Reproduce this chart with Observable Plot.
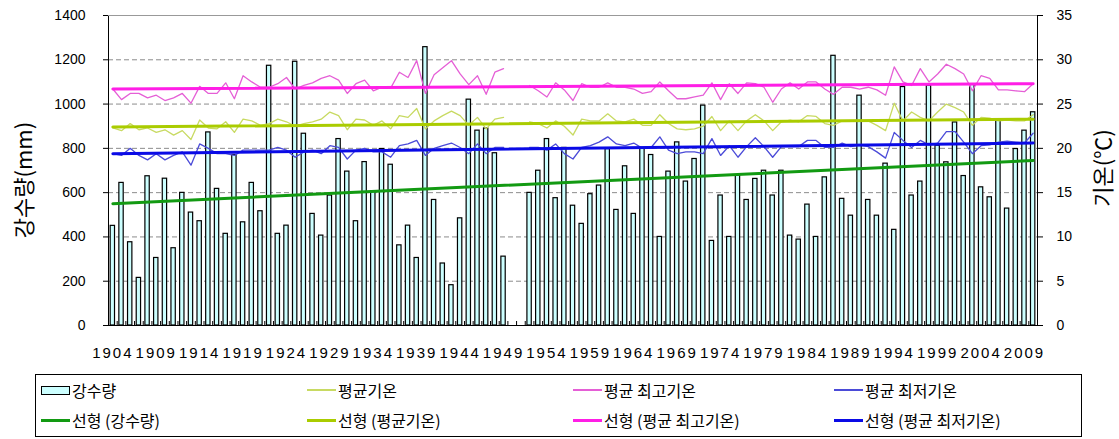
<!DOCTYPE html>
<html><head><meta charset="utf-8">
<script src="https://cdn.jsdelivr.net/npm/d3@7"></script>
<script src="https://cdn.jsdelivr.net/npm/@observablehq/plot@0.6"></script>
<style>
html,body{margin:0;padding:0;background:#fff}
body{width:1119px;height:439px;overflow:hidden;position:relative;font-family:"Liberation Sans",Arial,sans-serif}
#wrap{position:absolute;left:0;top:0;width:1119px;height:372px}
#wrap svg{position:absolute;left:0;top:0;overflow:visible}
.xlab text{letter-spacing:2px}
.ylab{position:absolute;font-family:"Noto Sans CJK KR",sans-serif;font-size:22px;color:#000;white-space:nowrap;transform:translate(-50%,-50%) rotate(-90deg);line-height:1}
#legend{position:absolute;left:35px;top:374px;width:1045px;height:61px;border:1.5px solid #000;font-family:"Noto Sans CJK KR",sans-serif;font-size:16px;color:#000}
.item{position:absolute;height:22px;display:flex;align-items:center;white-space:nowrap;line-height:1}
.sw{width:29px;margin-right:2px;display:inline-block}
</style></head><body>
<div id="wrap"></div>
<div class="ylab" style="left:22px;top:180px">강수량(mm)</div>
<div class="ylab" style="left:1101px;top:168px">기온(℃)</div>
<div id="legend"></div>
<script>
const years = d3.range(1904, 2011);
const precip = [450,644,376,215,674,305,663,349,599,510,471,872,617,414,770,466,644,516,1173,414,451,1191,866,504,406,587,842,695,471,738,606,797,726,362,451,305,1257,567,280,182,484,1020,880,890,778,311,null,null,599,699,842,575,802,541,459,593,632,797,522,719,504,800,770,400,695,827,650,752,993,382,587,400,677,567,662,699,587,699,406,388,546,400,669,1218,572,496,1038,567,496,731,432,1077,587,650,1083,812,737,917,675,1090,624,579,929,528,797,880,963];
const tMax = [26.7,25.5,26.2,26.2,25.7,26.0,25.4,25.7,26.2,25.1,27.0,26.2,26.2,27.4,25.6,28.2,27.5,26.9,26.9,27.3,28.0,26.7,27.1,27.4,27.9,28.2,27.7,26.2,27.3,27.7,26.5,26.9,26.8,28.6,28.0,29.9,26.2,28.3,29.1,29.9,28.4,27.2,28.2,26.1,28.6,29.0,null,null,27.1,26.5,25.8,27.4,26.6,25.4,27.3,26.9,26.9,27.4,26.9,26.9,26.7,26.2,26.4,27.5,26.5,25.6,25.6,25.8,26.0,27.4,25.5,27.3,26.2,27.4,27.3,26.9,25.2,26.7,27.4,26.7,27.5,27.5,26.7,26.1,26.9,26.9,26.7,26.9,26.6,26.0,29.2,27.5,27.1,29.0,27.5,28.4,29.5,29.0,28.4,26.5,28.2,27.9,26.6,26.6,26.5,26.4,27.3];
const tMean = [22.3,22.0,22.8,22.1,22.3,21.8,22.1,21.5,22.0,21.0,23.2,22.3,22.2,23.0,21.8,23.3,23.1,22.6,22.8,23.3,23.0,22.5,22.8,23.0,23.3,24.1,23.7,22.1,23.3,23.2,22.6,23.1,22.2,23.7,23.5,24.5,22.2,23.1,23.7,24.2,23.7,22.6,23.5,22.2,23.3,23.5,null,null,23.0,22.8,22.3,23.1,22.5,21.5,23.3,23.1,23.1,23.9,23.1,23.0,23.3,22.6,22.6,23.8,22.8,22.2,22.1,22.2,22.5,23.6,22.0,23.1,22.0,23.1,23.8,23.1,22.0,23.0,23.2,23.0,23.7,23.6,22.8,22.6,23.1,23.1,23.1,23.1,22.6,22.0,25.1,23.1,24.1,23.5,23.1,24.1,25.0,24.6,24.1,22.6,23.5,23.4,23.1,23.2,23.1,23.1,23.8];
const tMin = [19.4,19.2,20.0,19.2,18.7,19.4,18.7,19.2,19.6,18.1,20.5,20.0,19.4,19.4,19.2,19.8,19.8,19.8,19.8,20.1,19.8,19.0,19.6,19.8,19.4,20.3,20.1,18.8,19.8,20.0,19.6,19.6,19.0,20.3,20.5,20.9,19.2,20.0,20.3,20.6,20.1,19.4,20.5,19.4,20.1,20.1,null,null,20.1,20.1,19.8,20.5,19.4,18.8,20.1,20.3,20.7,21.3,20.5,20.3,20.6,20.0,20.1,21.3,19.8,19.4,19.6,19.6,19.4,21.1,19.2,20.3,19.0,20.2,21.2,20.2,19.0,20.2,20.2,20.2,20.9,20.9,20.1,20.1,20.6,20.2,20.4,20.2,19.6,18.9,21.8,20.9,20.1,20.9,20.4,20.6,21.9,21.9,20.7,19.4,20.3,20.4,20.7,20.8,20.7,20.6,21.7];
const xTickLabels = [1904,1909,1914,1919,1924,1929,1934,1939,1944,1949,1954,1959,1964,1969,1974,1979,1984,1989,1994,1999,2004,2009];
const precipTicks = [0,200,400,600,800,1000,1200,1400];
const tempTicks = [0,5,10,15,20,25,30,35];
const trendYears = [1904, 2010];
const trendPrecip = [550, 745];
const trendMean = [22.4, 23.3];
const trendMax = [26.7, 27.3];
const trendMin = [19.4, 20.6];

const C = {
  bar: "#ccffff", mean: "#c8da62", max: "#e55fd6", min: "#4b4bd8",
  tPrecip: "#129a12", tMean: "#aacc00", tMax: "#ff1ee6", tMin: "#0a0ae6"
};

const rows = years.map((year, i) => ({year, precip: precip[i], tMax: tMax[i], tMean: tMean[i], tMin: tMin[i]}));
const trend = arr => trendYears.map((year, i) => ({year, v: arr[i]}));
const plain = d => String(d);

const W = 1119, H = 372, mL = 108, mR = 82, mT = 15, mB = 47;
const step = (W - mL - mR) / years.length;
const xOpt = {type: "band", domain: years, paddingInner: 0.5, paddingOuter: 0.25, label: null};
const base = {width: W, height: H, marginLeft: mL, marginRight: mR, marginTop: mT, marginBottom: mB,
  style: {fontFamily: "Liberation Sans, Arial, sans-serif", fontSize: "14px", color: "#000", background: "transparent"}};

const p1 = Plot.plot({
  ...base,
  x: xOpt,
  y: {domain: [0, 1400], label: null},
  marks: [
    Plot.gridY(precipTicks.filter(v => v > 0 && v < 1400), {stroke: "#8c8c8c", strokeOpacity: 1, strokeDasharray: "5,3"}),
    Plot.barY(rows, {x: "year", y: "precip", fill: C.bar, stroke: "#000", strokeWidth: 1.2}),
    Plot.frame({stroke: "#000"}),
    Plot.ruleY([1400], {stroke: "#999"}),
    Plot.axisX({ticks: years, tickSize: -4, dx: step / 2, tickFormat: () => "", stroke: "#000", label: null}),
    Plot.axisX({ticks: xTickLabels, tickSize: 0, tickPadding: 22, fontSize: 15, tickFormat: plain, label: null, className: "xlab"}),
    Plot.axisY({ticks: precipTicks, tickSize: 5, tickPadding: 18, fontSize: 14, tickFormat: plain, label: null}),
    Plot.line(trend(trendPrecip), {x: "year", y: "v", stroke: C.tPrecip, strokeWidth: 3})
  ]
});

const p2 = Plot.plot({
  ...base,
  x: {...xOpt, axis: null},
  y: {domain: [0, 35], label: null},
  marks: [
    Plot.axisY({anchor: "right", ticks: tempTicks, tickSize: 5, tickPadding: 14, fontSize: 14, tickFormat: plain, label: null}),
    Plot.lineY(rows, {x: "year", y: "tMean", stroke: C.mean, strokeWidth: 1.3}),
    Plot.lineY(rows, {x: "year", y: "tMax", stroke: C.max, strokeWidth: 1.3}),
    Plot.lineY(rows, {x: "year", y: "tMin", stroke: C.min, strokeWidth: 1.3}),
    Plot.line(trend(trendMean), {x: "year", y: "v", stroke: C.tMean, strokeWidth: 3}),
    Plot.line(trend(trendMax), {x: "year", y: "v", stroke: C.tMax, strokeWidth: 3}),
    Plot.line(trend(trendMin), {x: "year", y: "v", stroke: C.tMin, strokeWidth: 3})
  ]
});

const wrap = document.getElementById("wrap");
wrap.appendChild(p1);
wrap.appendChild(p2);

const legendItems = [
  {label: "강수량", type: "box", color: C.bar, col: 0, row: 0},
  {label: "평균기온", type: "line", color: C.mean, w: 1.5, col: 1, row: 0},
  {label: "평균 최고기온", type: "line", color: C.max, w: 1.5, col: 2, row: 0},
  {label: "평균 최저기온", type: "line", color: C.min, w: 1.5, col: 3, row: 0},
  {label: "선형 (강수량)", type: "line", color: C.tPrecip, w: 3, col: 0, row: 1},
  {label: "선형 (평균기온)", type: "line", color: C.tMean, w: 3, col: 1, row: 1},
  {label: "선형 (평균 최고기온)", type: "line", color: C.tMax, w: 3, col: 2, row: 1},
  {label: "선형 (평균 최저기온)", type: "line", color: C.tMin, w: 3, col: 3, row: 1}
];
const colX = [5, 271, 537, 798];
const rowY = [4, 34];
const leg = document.getElementById("legend");
for (const it of legendItems) {
  const d = document.createElement("div");
  d.className = "item";
  d.style.left = colX[it.col] + "px";
  d.style.top = rowY[it.row] + "px";
  const sw = document.createElement("span");
  sw.className = "sw";
  if (it.type === "box") {
    sw.style.height = "9px"; sw.style.background = it.color; sw.style.border = "1px solid #000"; sw.style.boxSizing = "border-box";
  } else {
    sw.style.height = it.w + "px"; sw.style.background = it.color;
  }
  d.appendChild(sw);
  d.appendChild(document.createTextNode(it.label));
  leg.appendChild(d);
}
</script>
</body></html>
